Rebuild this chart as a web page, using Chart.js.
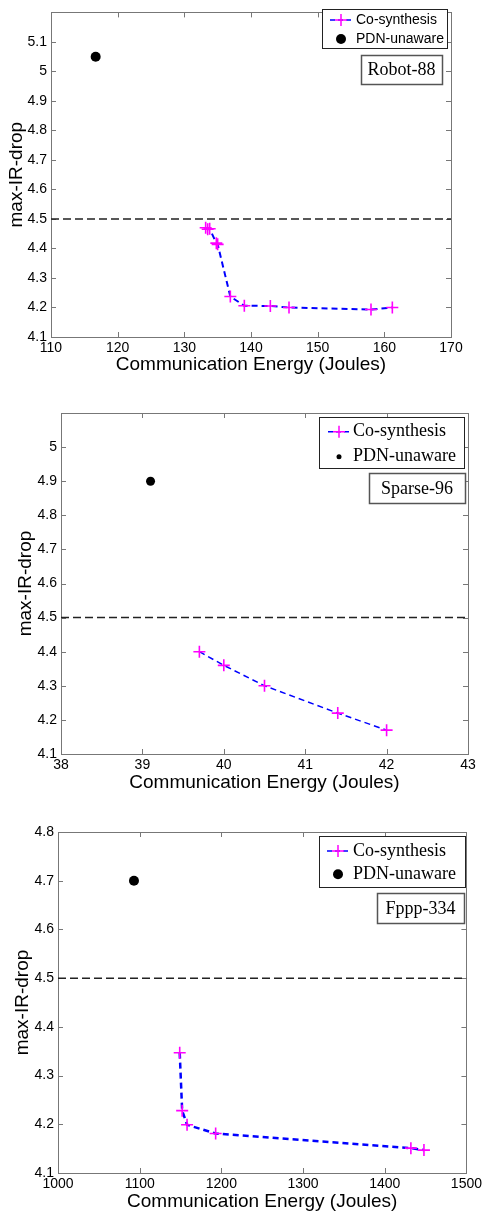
<!DOCTYPE html>
<html><head><meta charset="utf-8">
<script src="https://cdn.jsdelivr.net/npm/chart.js@4/dist/chart.umd.min.js"></script>
<style>
html,body{margin:0;padding:0;background:#fff;}
body{width:485px;height:1214px;position:relative;overflow:hidden;}
canvas{position:absolute;left:0;}
</style></head><body>
<canvas id="c1" width="485" height="400" style="top:0px"></canvas>
<canvas id="c2" width="485" height="410" style="top:400px"></canvas>
<canvas id="c3" width="485" height="404" style="top:810px"></canvas>
<script>
// ---- Data ----
const seriesNames = ['Co-synthesis', 'PDN-unaware'];
const benchmarks = ['Robot-88', 'Sparse-96', 'Fppp-334'];
const xTitle = 'Communication Energy (Joules)';
const yTitle = 'max-IR-drop';
const threshold = 4.5;

// Robot-88
const robotCoX = [133.2, 133.5, 133.8, 134.8, 135.0, 136.9, 139.0, 142.9, 145.7, 158.0, 161.2];
const robotCoY = [4.470, 4.465, 4.467, 4.418, 4.414, 4.237, 4.206, 4.205, 4.200, 4.193, 4.200];
const robotPdnX = [116.7];
const robotPdnY = [5.05];
const robotXTicks = [110, 120, 130, 140, 150, 160, 170];
const robotYTicks = [4.1, 4.2, 4.3, 4.4, 4.5, 4.6, 4.7, 4.8, 4.9, 5.0, 5.1, 5.2];

// Sparse-96
const sparseCoX = [39.7, 40.0, 40.5, 41.4, 42.0];
const sparseCoY = [4.40, 4.36, 4.30, 4.22, 4.17];
const sparsePdnX = [39.1];
const sparsePdnY = [4.9];
const sparseXTicks = [38, 39, 40, 41, 42, 43];
const sparseYTicks = [4.1, 4.2, 4.3, 4.4, 4.5, 4.6, 4.7, 4.8, 4.9, 5.0, 5.1];

// Fppp-334
const fpppCoX = [1149, 1152, 1158, 1193, 1432, 1448];
const fpppCoY = [4.347, 4.228, 4.199, 4.181, 4.151, 4.147];
const fpppPdnX = [1093];
const fpppPdnY = [4.7];
const fpppXTicks = [1000, 1100, 1200, 1300, 1400, 1500];
const fpppYTicks = [4.1, 4.2, 4.3, 4.4, 4.5, 4.6, 4.7, 4.8];

Chart.defaults.font.family = '"Liberation Sans", Arial, sans-serif';

const matlabPlugin = {
  id: 'matlab',
  beforeDatasetsDraw(chart) {
    const {ctx, chartArea: a, scales: {x, y}} = chart;
    ctx.save();
    ctx.strokeStyle = '#777';
    ctx.lineWidth = 1;
    ctx.beginPath();
    x.ticks.forEach(t => {
      const px = Math.round(x.getPixelForValue(t.value)) + 0.5;
      ctx.moveTo(px, a.bottom); ctx.lineTo(px, a.bottom - 5);
      ctx.moveTo(px, a.top); ctx.lineTo(px, a.top + 5);
    });
    y.ticks.forEach(t => {
      const py = Math.round(y.getPixelForValue(t.value)) + 0.5;
      ctx.moveTo(a.left, py); ctx.lineTo(a.left + 5, py);
      ctx.moveTo(a.right, py); ctx.lineTo(a.right - 5, py);
    });
    ctx.stroke();
    ctx.strokeRect(Math.round(a.left) + 0.5, Math.round(a.top) + 0.5,
                   Math.round(a.right - a.left), Math.round(a.bottom - a.top));
    ctx.restore();
  },
  afterDraw(chart, args, o) {
    const ctx = chart.ctx;
    ctx.save();
    const b = o.box;
    ctx.fillStyle = '#fff';
    ctx.fillRect(b[0], b[1], b[2] - b[0], b[3] - b[1]);
    ctx.strokeStyle = '#222';
    ctx.lineWidth = 1;
    ctx.strokeRect(b[0] + 0.5, b[1] + 0.5, b[2] - b[0], b[3] - b[1]);
    const mx = o.mx;
    ctx.strokeStyle = '#0000ff';
    ctx.lineWidth = 1.5;
    ctx.setLineDash([5, 3]);
    ctx.beginPath(); ctx.moveTo(mx - 11, o.r1); ctx.lineTo(mx + 13, o.r1); ctx.stroke();
    ctx.setLineDash([]);
    ctx.strokeStyle = '#ff00ff';
    ctx.beginPath();
    ctx.moveTo(mx - 6, o.r1); ctx.lineTo(mx + 6, o.r1);
    ctx.moveTo(mx, o.r1 - 6); ctx.lineTo(mx, o.r1 + 6);
    ctx.stroke();
    ctx.fillStyle = '#000';
    ctx.beginPath(); ctx.arc(mx, o.r2, o.dotR, 0, Math.PI * 2); ctx.fill();
    ctx.fillStyle = '#000';
    ctx.font = o.font;
    ctx.textBaseline = 'middle';
    ctx.textAlign = 'left';
    ctx.fillText(seriesNames[0], o.tx, o.r1);
    ctx.fillText(seriesNames[1], o.tx, o.r2);
    const l = o.lbox;
    ctx.fillStyle = '#fff';
    ctx.fillRect(l[0], l[1], l[2] - l[0], l[3] - l[1]);
    ctx.strokeStyle = '#555';
    ctx.strokeRect(l[0] + 0.5, l[1] + 0.5, l[2] - l[0], l[3] - l[1]);
    ctx.fillStyle = '#000';
    ctx.font = '18px "Liberation Serif", "Times New Roman", serif';
    ctx.textAlign = 'center';
    ctx.fillText(o.label, (l[0] + l[2]) / 2, (l[1] + l[3]) / 2 + 1);
    ctx.restore();
  }
};

function fmt(v) { return String(Number(v.toFixed(1))); }

function makeChart(id, d, lay) {
  const fsT = 19, XH = 42;
  const xr = [d.xTicks[0], d.xTicks[d.xTicks.length - 1]];
  const yr = [d.yTicks[0], d.yTicks[d.yTicks.length - 1]];
  return new Chart(document.getElementById(id), {
    type: 'scatter',
    data: {
      datasets: [
        {
          label: seriesNames[0],
          data: d.coX.map((x, i) => ({x, y: d.coY[i]})),
          showLine: true, borderColor: '#0000ff', borderWidth: lay.lw, borderDash: [6, 4],
          pointStyle: 'cross', pointRadius: 6, pointBorderColor: '#ff00ff',
          pointBackgroundColor: '#ff00ff', pointBorderWidth: 1.6, tension: 0
        },
        {
          label: seriesNames[1],
          data: d.pdnX.map((x, i) => ({x, y: d.pdnY[i]})),
          pointStyle: 'circle', pointRadius: lay.dotR, backgroundColor: '#000',
          borderColor: '#000', borderWidth: 0
        },
        {
          label: 'limit',
          data: [{x: xr[0], y: threshold}, {x: xr[1], y: threshold}],
          showLine: true, borderColor: '#222', borderWidth: 1.5, borderDash: [8, 4], pointRadius: 0
        }
      ]
    },
    options: {
      responsive: false, animation: false, events: [],
      layout: {padding: {left: 0, right: 485 - lay.R, top: lay.T, bottom: lay.H - lay.B - XH}},
      plugins: {
        legend: {display: false}, tooltip: {enabled: false},
        matlab: lay.legend
      },
      scales: {
        x: {
          type: 'linear', min: xr[0], max: xr[1],
          afterBuildTicks(s) { s.ticks = d.xTicks.map(v => ({value: v})); },
          ticks: {color: '#000', font: {size: 14}, padding: 3, maxRotation: 0, autoSkip: false,
                  callback: v => String(v)},
          grid: {display: false, drawTicks: false}, border: {display: false},
          title: {display: true, text: xTitle, color: '#000', font: {size: fsT},
                  padding: {top: 0, bottom: Math.max(0, lay.B + XH - lay.XT - 0.6 * fsT)}},
          afterFit(s) { s.height = XH; }
        },
        y: {
          type: 'linear', min: yr[0], max: yr[1],
          afterBuildTicks(s) { s.ticks = d.yTicks.map(v => ({value: v})); },
          ticks: {color: '#000', font: {size: 14}, padding: 4, autoSkip: false,
                  callback: v => (lay.hideTop && Math.abs(v - yr[1]) < 1e-9) ? '' : fmt(v)},
          grid: {display: false, drawTicks: false}, border: {display: false},
          title: {display: true, text: yTitle, color: '#000', font: {size: fsT},
                  padding: {top: lay.YT - 0.6 * fsT, bottom: 0}},
          afterFit(s) { s.width = lay.L; }
        }
      }
    },
    plugins: [matlabPlugin]
  });
}

const sansLeg = '14px "Liberation Sans", Arial, sans-serif';
const serifLeg = '18px "Liberation Serif", "Times New Roman", serif';

makeChart('c1',
  {coX: robotCoX, coY: robotCoY, pdnX: robotPdnX, pdnY: robotPdnY, xTicks: robotXTicks, yTicks: robotYTicks},
  {L: 51, R: 451, T: 5, B: 337, H: 400, XT: 365, YT: 16.7, lw: 2, dotR: 5, hideTop: true,
   legend: {box: [322, 9, 447, 48], r1: 20, r2: 39, mx: 341, tx: 356, dotR: 5, font: sansLeg,
            lbox: [361, 55, 442, 84], label: benchmarks[0]}});

makeChart('c2',
  {coX: sparseCoX, coY: sparseCoY, pdnX: sparsePdnX, pdnY: sparsePdnY, xTicks: sparseXTicks, yTicks: sparseYTicks},
  {L: 61, R: 468, T: 13, B: 354, H: 410, XT: 383, YT: 25.5, lw: 1.5, dotR: 4.5, hideTop: true,
   legend: {box: [319, 17, 464, 68], r1: 31.7, r2: 56.7, mx: 339, tx: 353, dotR: 2.5, font: serifLeg,
            lbox: [369, 73, 465, 103], label: benchmarks[1]}});

makeChart('c3',
  {coX: fpppCoX, coY: fpppCoY, pdnX: fpppPdnX, pdnY: fpppPdnY, xTicks: fpppXTicks, yTicks: fpppYTicks},
  {L: 58, R: 469, T: 22, B: 363, H: 404, XT: 392, YT: 22.5, lw: 2.5, dotR: 5, hideTop: false,
   legend: {box: [319, 26, 465, 77], r1: 41, r2: 64.3, mx: 338, tx: 353, dotR: 5, font: serifLeg,
            lbox: [377, 83, 464, 113], label: benchmarks[2]}});
</script>
</body></html>
